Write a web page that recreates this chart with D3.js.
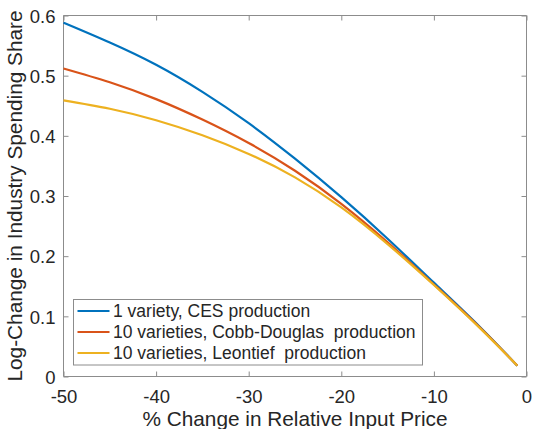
<!DOCTYPE html>
<html>
<head>
<meta charset="utf-8">
<script src="https://cdn.jsdelivr.net/npm/d3@7"></script>
<style>
  html, body { margin: 0; padding: 0; background: #fff; }
  svg { display: block; font-family: "Liberation Sans", Arial, Helvetica, sans-serif; }
</style>
</head>
<body>
<svg id="chart" width="533" height="429"></svg>
<script>
// ---- Data ----
const xValues = [-50, -45, -40, -35, -30, -25, -20, -15, -10, -5, -1];
const cesOneVariety   = [0.588, 0.555, 0.518, 0.473, 0.421, 0.362, 0.298, 0.229, 0.156, 0.082, 0.018];
const cobbDouglasTen  = [0.512, 0.489, 0.461, 0.427, 0.388, 0.342, 0.287, 0.223, 0.153, 0.081, 0.018];
const leontiefTen     = [0.459, 0.445, 0.426, 0.401, 0.370, 0.331, 0.281, 0.220, 0.152, 0.080, 0.018];
const seriesNames = [
  "1 variety, CES production",
  "10 varieties, Cobb-Douglas  production",
  "10 varieties, Leontief  production"
];
const seriesColors = ["#0072BD", "#D95319", "#EDB120"];
const xTicks = [-50, -40, -30, -20, -10, 0];
const yTicks = [0, 0.1, 0.2, 0.3, 0.4, 0.5, 0.6];
const xLabel = "% Change in Relative Input Price";
const yLabel = "Log-Change in Industry Spending Share";

const series = [cesOneVariety, cobbDouglasTen, leontiefTen];

// ---- Layout ----
const svg = d3.select("#chart");
const pL = 63.5, pR = 526.5, pT = 15.5, pB = 376.5;
const axisColor = "#8c8c8c";
const textColor = "#262626";

const x = d3.scaleLinear().domain([-50, 0]).range([pL, pR]);
const y = d3.scaleLinear().domain([0, 0.6]).range([pB, pT]);

// Axes (MATLAB style: inward ticks, boxed)
const tickLen = 5;
const fmtX = d => String(d);
const fmtY = d => d === 0 ? "0" : d.toFixed(1);

const bottomAxis = d3.axisBottom(x).tickValues(xTicks).tickSize(-tickLen).tickPadding(13).tickFormat(fmtX);
const topAxis = d3.axisTop(x).tickValues(xTicks).tickSize(-tickLen).tickFormat("");
const leftAxis = d3.axisLeft(y).tickValues(yTicks).tickSize(-tickLen).tickPadding(8).tickFormat(fmtY);
const rightAxis = d3.axisRight(y).tickValues(yTicks).tickSize(-tickLen).tickFormat("");

function style(g) {
  g.select(".domain").attr("stroke", axisColor).attr("stroke-width", 1);
  g.selectAll(".tick line").attr("stroke", axisColor).attr("stroke-width", 1);
  g.selectAll(".tick text").attr("fill", textColor).attr("font-size", 18.5)
    .attr("font-family", "'Liberation Sans', Arial, Helvetica, sans-serif");
}

svg.append("g").attr("transform", `translate(0,${pB})`).call(bottomAxis).call(style)
  .call(g => g.select(".domain").attr("d", `M${pL},0H${pR}`));
svg.append("g").attr("transform", `translate(0,${pT})`).call(topAxis).call(style)
  .call(g => g.select(".domain").attr("d", `M${pL},0H${pR}`));
svg.append("g").attr("transform", `translate(${pL},0)`).call(leftAxis).call(style)
  .call(g => g.select(".domain").attr("d", `M0,${pT}V${pB}`))
  .call(g => g.selectAll(".tick text").attr("dy", "0.36em"));
svg.append("g").attr("transform", `translate(${pR},0)`).call(rightAxis).call(style)
  .call(g => g.select(".domain").attr("d", `M0,${pT}V${pB}`));

// Lines
const line = d3.line()
  .x((d, i) => x(xValues[i]))
  .y(d => y(d))
  .curve(d3.curveNatural);

series.forEach((s, k) => {
  svg.append("path")
    .datum(s)
    .attr("fill", "none")
    .attr("stroke", seriesColors[k])
    .attr("stroke-width", 2.2)
    .attr("stroke-linejoin", "round")
    .attr("d", line);
});

// Axis labels
svg.append("text")
  .attr("x", (pL + pR) / 2).attr("y", 426)
  .attr("text-anchor", "middle")
  .attr("font-size", 20.8)
  .attr("fill", textColor)
  .text(xLabel);

svg.append("text")
  .attr("transform", `translate(22,${(pT + pB) / 2}) rotate(-90)`)
  .attr("text-anchor", "middle")
  .attr("font-size", 20.8)
  .attr("fill", textColor)
  .text(yLabel);

// Legend
const lg = svg.append("g");
lg.append("rect")
  .attr("x", 73.5).attr("y", 299.5)
  .attr("width", 349).attr("height", 65.5)
  .attr("fill", "#fff")
  .attr("stroke", axisColor).attr("stroke-width", 1);

const rowY = [311, 332, 353];
seriesNames.forEach((name, k) => {
  lg.append("line")
    .attr("x1", 77.5).attr("x2", 109.5)
    .attr("y1", rowY[k]).attr("y2", rowY[k])
    .attr("stroke", seriesColors[k]).attr("stroke-width", 2.2);
  lg.append("text")
    .attr("x", 113).attr("y", rowY[k])
    .attr("dy", "0.36em")
    .attr("font-size", 17.5)
    .attr("fill", textColor)
    .style("white-space", "pre")
    .text(name);
});
</script>
</body>
</html>
